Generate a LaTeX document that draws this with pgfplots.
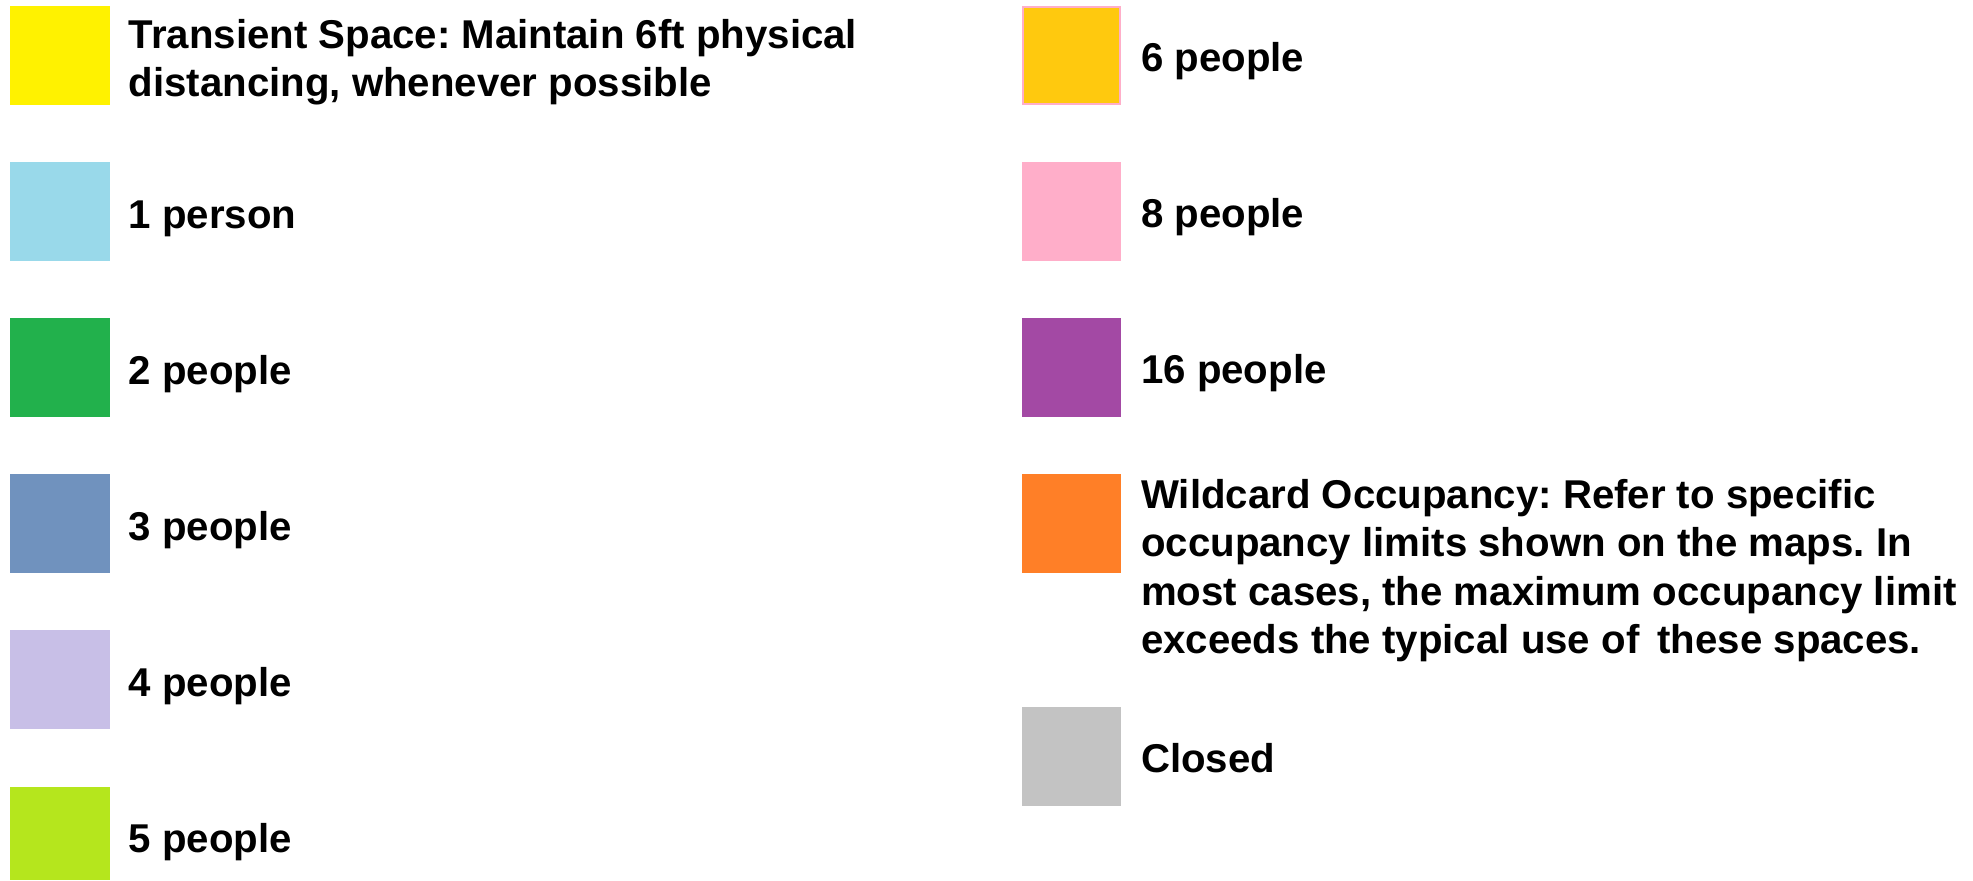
\documentclass[border=0pt]{standalone}
\usepackage{pgfplots}
\pgfplotsset{compat=1.18}
\usepackage{fontspec}
\setmainfont{Liberation Sans}
\frenchspacing
\definecolor{cYellow}{HTML}{FFF200}
\definecolor{cLBlue}{HTML}{99D9EA}
\definecolor{cGreen}{HTML}{22B14C}
\definecolor{cBlue}{HTML}{7092BE}
\definecolor{cLav}{HTML}{C8BFE7}
\definecolor{cLime}{HTML}{B5E61D}
\definecolor{cGold}{HTML}{FFC90E}
\definecolor{cPink}{HTML}{FFAEC9}
\definecolor{cPurple}{HTML}{A349A4}
\definecolor{cOrange}{HTML}{FF7F27}
\definecolor{cGrey}{HTML}{C3C3C3}
\tikzset{lbl/.style={anchor=base west, inner sep=0pt, font=\fontsize{10.05}{12}\selectfont\bfseries\frenchspacing, text=black}}
\begin{document}
\begin{tikzpicture}
\begin{axis}[width=493.25pt, height=220pt, scale only axis, hide axis,
  xmin=0, xmax=1973, ymin=0, ymax=880, y dir=reverse]
% left column swatches
\addplot[fill=cYellow, draw=none, mark=none] coordinates {(10,6) (110,6) (110,105) (10,105)};
\addplot[fill=cLBlue, draw=none, mark=none] coordinates {(10,162) (110,162) (110,261) (10,261)};
\addplot[fill=cGreen, draw=none, mark=none] coordinates {(10,318) (110,318) (110,417) (10,417)};
\addplot[fill=cBlue, draw=none, mark=none] coordinates {(10,474) (110,474) (110,573) (10,573)};
\addplot[fill=cLav, draw=none, mark=none] coordinates {(10,630) (110,630) (110,729) (10,729)};
\addplot[fill=cLime, draw=none, mark=none] coordinates {(10,787) (110,787) (110,880) (10,880)};
% right column swatches
\addplot[fill=cGold, draw=cPink, line width=0.5pt, mark=none] coordinates {(1023,7) (1120,7) (1120,104) (1023,104)} -- cycle;
\addplot[fill=cPink, draw=none, mark=none] coordinates {(1022,162) (1121,162) (1121,261) (1022,261)};
\addplot[fill=cPurple, draw=none, mark=none] coordinates {(1022,318) (1121,318) (1121,417) (1022,417)};
\addplot[fill=cOrange, draw=none, mark=none] coordinates {(1022,474) (1121,474) (1121,573) (1022,573)};
\addplot[fill=cGrey, draw=none, mark=none] coordinates {(1022,707) (1121,707) (1121,806) (1022,806)};
% left labels
\node[lbl] at (axis cs:128,48) {Transient Space: Maintain 6ft physical};
\node[lbl] at (axis cs:128,96.5) {distancing, whenever possible};
\node[lbl] at (axis cs:128,228.5) {1 person};
\node[lbl] at (axis cs:128,384.5) {2 people};
\node[lbl] at (axis cs:128,540.5) {3 people};
\node[lbl] at (axis cs:128,696.5) {4 people};
\node[lbl] at (axis cs:128,852.5) {5 people};
% right labels
\node[lbl] at (axis cs:1140.4,71.5) {6 people};
\node[lbl] at (axis cs:1140.4,227.5) {8 people};
\node[lbl] at (axis cs:1140.4,383.5) {16 people};
\node[lbl] at (axis cs:1140.4,508) {Wildcard Occupancy: Refer to specific};
\node[lbl] at (axis cs:1140.4,556.5) {occupancy limits shown on the maps. In};
\node[lbl] at (axis cs:1140.4,605) {most cases, the maximum occupancy limit};
\node[lbl] at (axis cs:1140.4,653.5) {exceeds the typical use of\hspace{0.45em}these spaces.};
\node[lbl] at (axis cs:1140.4,772.5) {Closed};
\end{axis}
\pgfresetboundingbox
\useasboundingbox (0,0) rectangle (493.25pt,220pt);
\end{tikzpicture}
\end{document}
